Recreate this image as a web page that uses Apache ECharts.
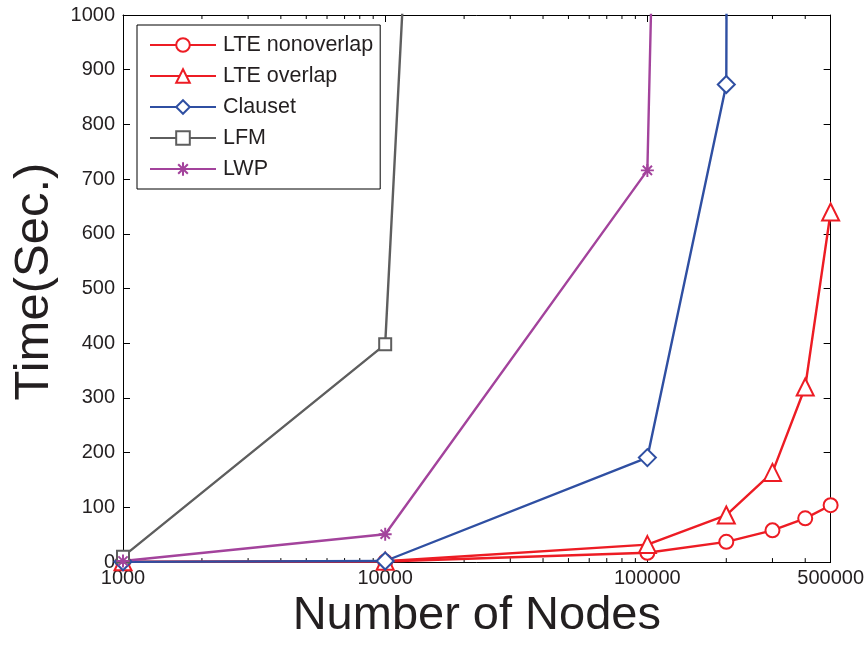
<!DOCTYPE html>
<html>
<head>
<meta charset="utf-8">
<script src="https://cdn.jsdelivr.net/npm/echarts@6/dist/echarts.min.js"></script>
<style>html,body{margin:0;padding:0;background:#fff;}#c{width:867px;height:645px;}</style>
</head>
<body>
<div id="c"></div>
<script>
// ---- data ----
const nodes = [1000, 10000, 100000, 200000, 300000, 400000, 500000];
const lteNonoverlap = [0.5, 1, 17, 37, 58, 80, 104];
const lteOverlap = [0.5, 1.5, 32, 86, 164, 320, 640];
const clausetNodes = [1000, 10000, 100000, 200000, 300000];
const clauset = [0.5, 2, 191, 873, 30000];
const lfmNodes = [1000, 10000, 100000];
const lfm = [10, 398, 9700];
const lwpNodes = [1000, 10000, 100000, 200000];
const lwp = [2, 51, 716, 7000];
const xTickLabels = [1000, 10000, 100000, 500000];
const xMinorTicks = [2000,3000,4000,5000,6000,7000,8000,9000,20000,30000,40000,50000,60000,70000,80000,90000,200000,300000,400000];
const yTicks = [0,100,200,300,400,500,600,700,800,900,1000];

const pair = (xs, ys) => xs.map((x, i) => [x, ys[i]]);

const RED = '#ED1C24', BLUE = '#2F4FA2', GRAY = '#5E5E5E', PURPLE = '#A3439C';
const asterisk = 'path://M0 8.5H20V11.5H0Z M8.5 0H11.5V20H8.5Z M3.96 1.84L18.16 16.04L16.04 18.16L1.84 3.96Z M16.04 1.84L18.16 3.96L3.96 18.16L1.84 16.04Z';
const FONT = '"Liberation Sans", Arial, Helvetica, sans-serif';

function lineSeries(name, data, color, symbol, size, bw) {
  return {
    name, type: 'line', data, symbol, symbolSize: size, clip: true,
    lineStyle: { color, width: 2.4 },
    itemStyle: { color, borderColor: color, borderWidth: bw },
    emphasis: { disabled: true }, animation: false
  };
}

const chart = echarts.init(document.getElementById('c'), null, { renderer: 'canvas' });
chart.setOption({
  animation: false,
  backgroundColor: '#fff',
  grid: { left: 123, right: 36, top: 15, bottom: 77, containLabel: false },
  legend: {
    data: ['LTE nonoverlap', 'LTE overlap', 'Clauset', 'LFM', 'LWP'],
    orient: 'vertical', left: 137, top: 25,
    backgroundColor: '#fff', borderColor: '#000', borderWidth: 1,
    padding: [9, 7, 9, 12],
    itemWidth: 66, itemHeight: 17, itemGap: 9,
    textStyle: { fontFamily: FONT, fontSize: 21.5, color: '#231F20', padding: [0, 0, 0, 2] },
    selectedMode: false
  },
  xAxis: [{
    type: 'log', logBase: 10, min: 1000, max: 500000,
    axisLine: { show: true, onZero: false, lineStyle: { color: '#000', width: 1 } },
    axisTick: { show: true, inside: true, length: 7, lineStyle: { color: '#000' } },
    splitLine: { show: false },
    axisLabel: {
      fontFamily: FONT, fontSize: 20, color: '#231F20', margin: 6,
      formatter: v => { const r = Math.round(v); return xTickLabels.includes(r) ? String(r) : ''; }
    },
    name: 'Number of Nodes', nameLocation: 'middle', nameGap: 29,
    nameTextStyle: { fontFamily: FONT, fontSize: 47, color: '#231F20' }
  }, {
    type: 'log', logBase: 10, min: 1000, max: 500000, position: 'top',
    axisLine: { show: true, onZero: false, lineStyle: { color: '#000', width: 1 } },
    axisTick: { show: true, inside: true, length: 7, lineStyle: { color: '#000' } },
    splitLine: { show: false }, axisLabel: { show: false }
  }],
  yAxis: [{
    type: 'value', min: 0, max: 1000, interval: 100,
    axisLine: { show: true, onZero: false, lineStyle: { color: '#000', width: 1 } },
    axisTick: { show: true, inside: true, length: 7, lineStyle: { color: '#000' } },
    splitLine: { show: false },
    axisLabel: { fontFamily: FONT, fontSize: 20, color: '#231F20', margin: 8,
      formatter: v => yTicks.includes(v) ? String(v) : '' },
    name: 'Time(Sec.)', nameLocation: 'middle', nameGap: 64,
    nameTextStyle: { fontFamily: FONT, fontSize: 49, color: '#231F20', padding: [0, 0, 0, 14] }
  }, {
    type: 'value', min: 0, max: 1000, interval: 100, position: 'right',
    axisLine: { show: true, onZero: false, lineStyle: { color: '#000', width: 1 } },
    axisTick: { show: true, inside: true, length: 7, lineStyle: { color: '#000' } },
    splitLine: { show: false }, axisLabel: { show: false }
  }],
  series: [
    {
      type: 'custom', name: 'minorTicks', data: xMinorTicks.map(v => [v]),
      clip: false, silent: true, z: 1,
      renderItem: (params, api) => {
        const x = api.value(0);
        const b = api.coord([x, 0]);
        const t = api.coord([x, 1000]);
        return { type: 'group', children: [
          { type: 'line', shape: { x1: b[0], y1: b[1], x2: b[0], y2: b[1] - 4 }, style: { stroke: '#000', lineWidth: 1 } },
          { type: 'line', shape: { x1: t[0], y1: t[1], x2: t[0], y2: t[1] + 4 }, style: { stroke: '#000', lineWidth: 1 } }
        ]};
      }
    },
    lineSeries('LTE nonoverlap', pair(nodes, lteNonoverlap), RED, 'emptyCircle', 14, 2),
    lineSeries('LTE overlap', pair(nodes, lteOverlap), RED, 'emptyTriangle', 17, 2),
    lineSeries('Clauset', pair(clausetNodes, clauset), BLUE, 'emptyDiamond', 17, 2),
    lineSeries('LFM', pair(lfmNodes, lfm), GRAY, 'emptyRect', 12, 2),
    lineSeries('LWP', pair(lwpNodes, lwp), PURPLE, asterisk, 13, 0)
  ]
});
</script>
</body>
</html>
